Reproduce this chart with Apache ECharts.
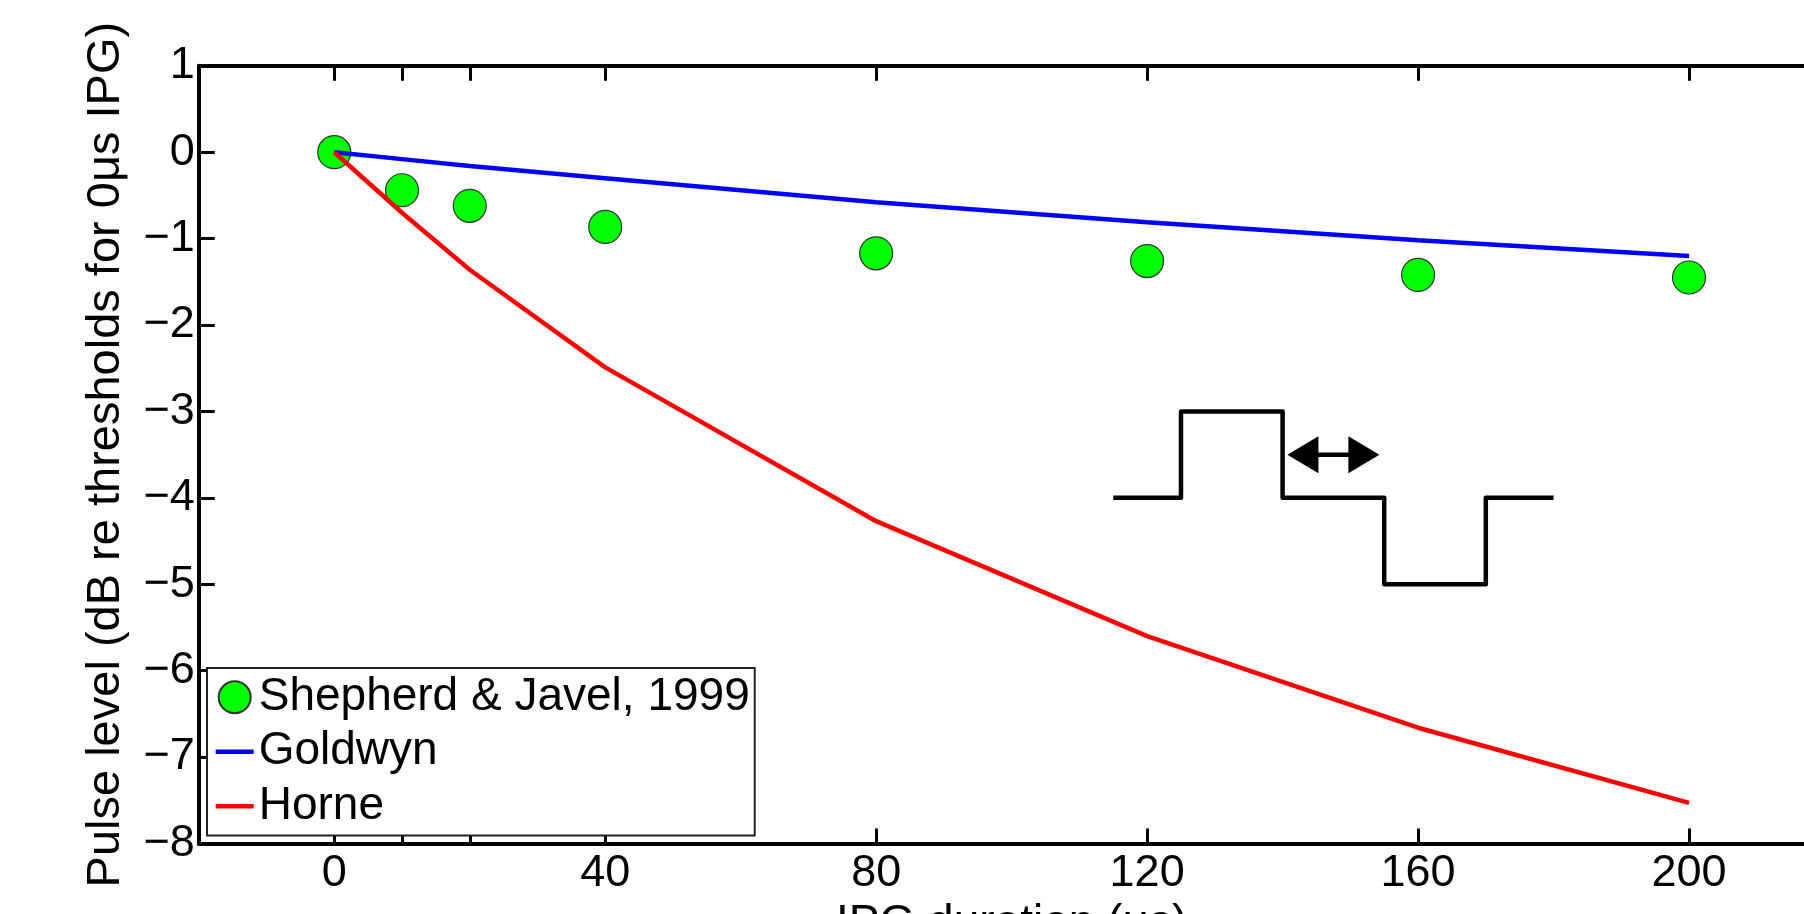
<!DOCTYPE html>
<html>
<head>
<meta charset="utf-8">
<title>Pulse level vs IPG duration</title>
<script src="https://cdn.jsdelivr.net/npm/echarts@6/dist/echarts.min.js"></script>
<style>
  html, body { margin: 0; padding: 0; background: #fff; }
  #chart { width: 1804px; height: 914px; }
</style>
</head>
<body>
<div id="chart"></div>
<script>
(function () {

  // IPG durations (us)
  var ipg = [0, 10, 20, 40, 80, 120, 160, 200];
  // measured thresholds, Shepherd & Javel 1999
  var shepherd = [0, -0.44, -0.62, -0.865, -1.17, -1.26, -1.42, -1.45];
  // model curves
  var goldwyn = [0, -0.08, -0.16, -0.30, -0.58, -0.81, -1.02, -1.20];
  var horne = [0, -0.70, -1.36, -2.49, -4.27, -5.60, -6.66, -7.53];

  var xTickValues = [0, 10, 20, 40, 80, 120, 160, 200];
  var xLabelValues = [0, 40, 80, 120, 160, 200];

  // biphasic pulse sketch (data units)
  var pulseX = [115, 125, 125, 140, 140, 155, 155, 170, 170, 180];
  var pulseY = [-4, -4, -3, -3, -4, -4, -5, -5, -4, -4];
  // IPG arrow (centres of the two heads)
  var arrowX = [143, 152];
  var arrowY = [-3.5, -3.5];

  function pairs(xs, ys) {
    return xs.map(function (x, i) { return [x, ys[i]]; });
  }

  var font = '"Liberation Sans", Arial, Helvetica, sans-serif';
  // flat legend swatch for the two model lines
  var lineIcon = 'path://M0,0L38,0L38,4.5L0,4.5Z';

  function minus(v) {
    return String(v).replace('-', '\u2212');
  }

  var axisLine = { onZero: false, lineStyle: { color: '#000', width: 4 } };
  var xTick = { inside: true, length: 15, customValues: xTickValues, lineStyle: { color: '#000', width: 3 } };
  var yTick = { inside: true, length: 16, lineStyle: { color: '#000', width: 3 } };

  var myChart = echarts.init(document.getElementById('chart'));

  var option = {
    animation: false,
    backgroundColor: '#fff',
    textStyle: { fontFamily: font },
    grid: {
      left: 198.8,
      right: -20.5,
      top: 65.8,
      bottom: 70.5,
      containLabel: false,
      outerBoundsMode: 'none'
    },
    legend: {
      orient: 'vertical',
      left: 207,
      top: 668,
      padding: [2, 5, 2, 8.7],
      itemGap: 0,
      itemWidth: 38,
      itemHeight: 32,
      itemTextGap: 5,
      symbolKeepAspect: true,
      selectedMode: false,
      backgroundColor: '#fff',
      borderColor: '#222',
      borderWidth: 2,
      borderRadius: 0,
      textStyle: { fontFamily: font, fontSize: 46, color: '#000', lineHeight: 54.5 },
      data: [
        { name: 'Shepherd & Javel, 1999', icon: 'circle' },
        { name: 'Goldwyn', icon: lineIcon, itemStyle: { color: '#0000ff', borderWidth: 0 } },
        { name: 'Horne', icon: lineIcon, itemStyle: { color: '#ff0000', borderWidth: 0 } }
      ]
    },
    xAxis: [{
      type: 'value',
      position: 'bottom',
      min: -20,
      max: 220,
      name: 'IPG duration (\u03bcs)',
      nameLocation: 'middle',
      nameGap: 46,
      nameTextStyle: { fontFamily: font, fontSize: 46, color: '#000' },
      axisLine: axisLine,
      axisTick: xTick,
      axisLabel: { customValues: xLabelValues, fontFamily: font, fontSize: 45, color: '#000', margin: 8 },
      splitLine: { show: false }
    }, {
      type: 'value',
      position: 'top',
      min: -20,
      max: 220,
      axisLine: axisLine,
      axisTick: xTick,
      axisLabel: { show: false },
      splitLine: { show: false }
    }],
    yAxis: [{
      type: 'value',
      position: 'left',
      min: -8,
      max: 1,
      interval: 1,
      name: 'Pulse level (dB re thresholds for 0\u03bcs IPG)',
      nameLocation: 'middle',
      nameGap: 69,
      nameRotate: 90,
      nameTextStyle: { fontFamily: font, fontSize: 47, color: '#000' },
      axisLine: axisLine,
      axisTick: yTick,
      axisLabel: { fontFamily: font, fontSize: 45, color: '#000', margin: 4, formatter: minus },
      splitLine: { show: false }
    }, {
      type: 'value',
      position: 'right',
      min: -8,
      max: 1,
      interval: 1,
      axisLine: axisLine,
      axisTick: yTick,
      axisLabel: { show: false },
      splitLine: { show: false }
    }],
    series: [{
      name: 'Shepherd & Javel, 1999',
      type: 'scatter',
      data: pairs(ipg, shepherd),
      symbol: 'circle',
      symbolSize: 33,
      itemStyle: { color: '#00ff00', borderColor: '#333', borderWidth: 1.2, opacity: 1 },
      z: 2
    }, {
      name: 'Goldwyn',
      type: 'line',
      data: pairs(ipg, goldwyn),
      symbol: 'none',
      lineStyle: { color: '#0000ff', width: 4.5 },
      itemStyle: { color: '#0000ff' },
      z: 3
    }, {
      name: 'Horne',
      type: 'line',
      data: pairs(ipg, horne),
      symbol: 'none',
      lineStyle: { color: '#ff0000', width: 4.5 },
      itemStyle: { color: '#ff0000' },
      z: 3
    }, {
      type: 'line',
      data: pairs(pulseX, pulseY),
      symbol: 'none',
      silent: true,
      lineStyle: { color: '#000', width: 4.5, join: 'round' },
      z: 3
    }, {
      type: 'line',
      data: pairs(arrowX, arrowY),
      symbol: 'triangle',
      symbolSize: [37, 31],
      symbolRotate: function (value, params) {
        return params.dataIndex === 0 ? 90 : -90;
      },
      showSymbol: true,
      silent: true,
      itemStyle: { color: '#000', borderWidth: 0 },
      lineStyle: { color: '#000', width: 4.5 },
      z: 3
    }]
  };

  myChart.setOption(option);
}());
</script>
</body>
</html>
